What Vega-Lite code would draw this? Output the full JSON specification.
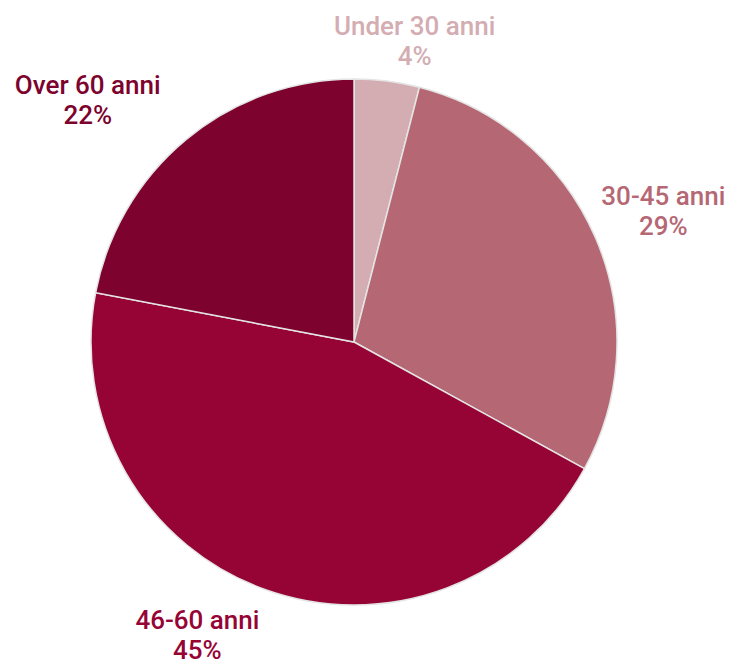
{
  "$schema": "https://vega.github.io/schema/vega-lite/v6.json",
  "width": 708,
  "height": 644,
  "autosize": "none",
  "padding": {"left": 0, "top": 20, "right": 37, "bottom": 0},
  "background": "white",
  "data": {
    "values": [
      {"group": "Under 30 anni", "value": 4, "rank": 1},
      {"group": "30-45 anni", "value": 29, "rank": 2},
      {"group": "46-60 anni", "value": 45, "rank": 3},
      {"group": "Over 60 anni", "value": 22, "rank": 4}
    ]
  },
  "transform": [
    {"calculate": "[datum.group, datum.value + '%']", "as": "label"}
  ],
  "encoding": {
    "theta": {"field": "value", "type": "quantitative", "stack": true},
    "order": {"field": "rank", "type": "ordinal"},
    "color": {
      "field": "group",
      "type": "nominal",
      "scale": {
        "domain": ["Under 30 anni", "30-45 anni", "46-60 anni", "Over 60 anni"],
        "range": ["#d3adb2", "#b56874", "#960436", "#7d022d"]
      },
      "legend": null
    }
  },
  "layer": [
    {
      "mark": {"type": "arc", "outerRadius": 263, "stroke": "#e4e4e4", "strokeWidth": 1.5}
    },
    {
      "mark": {
        "type": "text",
        "radius": 300,
        "font": "Roboto",
        "fontSize": 26,
        "fontWeight": 500,
        "lineHeight": 30,
        "align": "center",
        "baseline": "middle",
        "dx": {"expr": "datum.group == 'Under 30 anni' ? 23 : datum.group == '30-45 anni' ? 34 : datum.group == '46-60 anni' ? -55 : -75"},
        "dy": {"expr": "datum.group == 'Under 30 anni' ? -17 : datum.group == '30-45 anni' ? -26 : datum.group == '46-60 anni' ? -3 : -25"}
      },
      "encoding": {
        "text": {"field": "label"}
      }
    }
  ]
}
